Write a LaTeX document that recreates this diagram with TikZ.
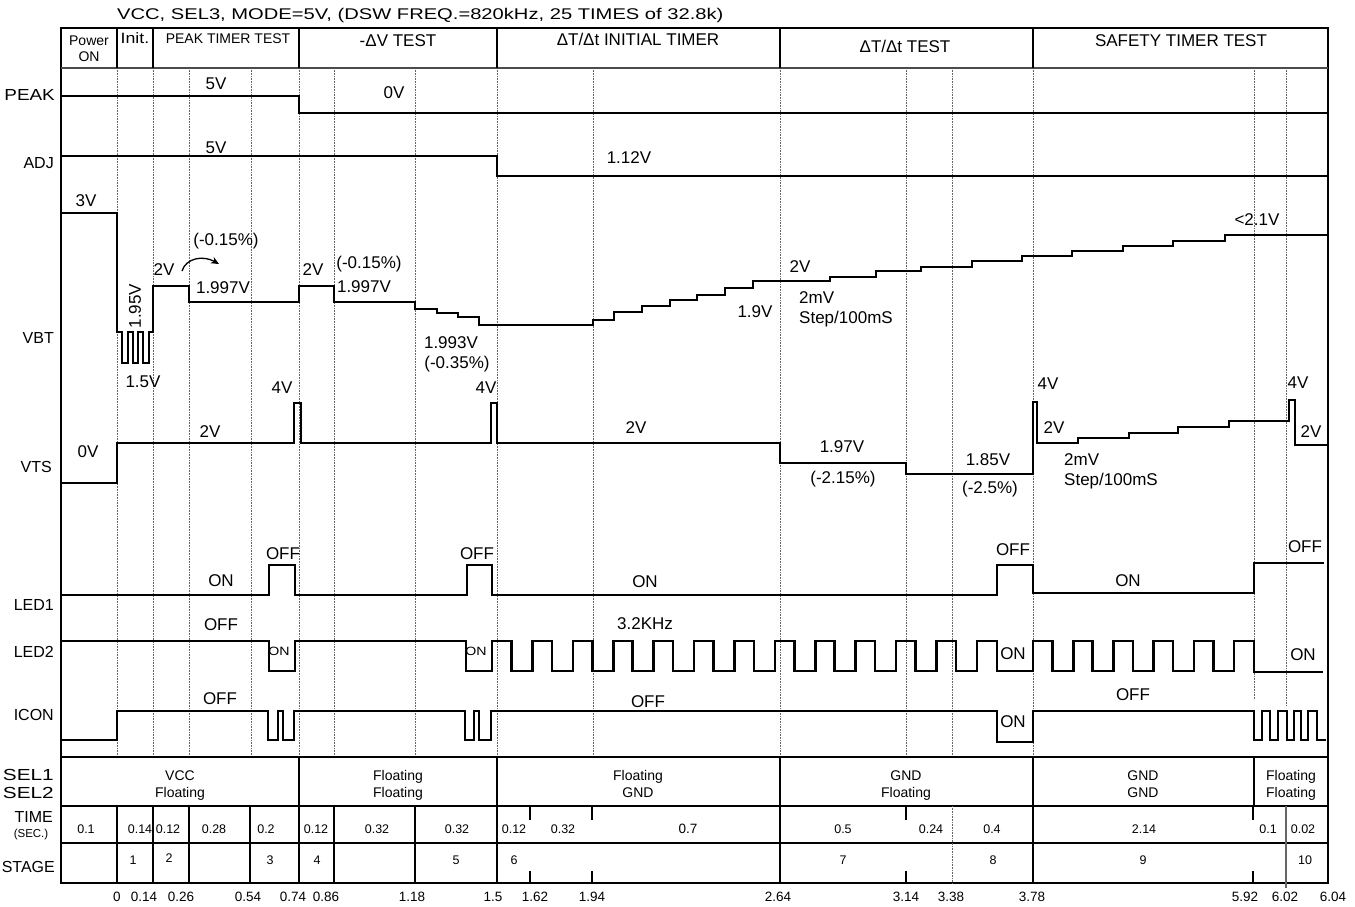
\documentclass[tikz,border=0pt]{standalone}
\usepackage{fontspec}
\setmainfont{Liberation Sans}
\newfontfamily\wfa[FakeStretch=1.18]{Liberation Sans}
\newfontfamily\wfb[FakeStretch=1.3]{Liberation Sans}
\usetikzlibrary{arrows.meta}
\newcommand\myfs[1]{\fontsize{#1}{#1}\selectfont}
\begin{document}
\begin{tikzpicture}[x=1pt,y=-1pt,
  sig/.style={line width=2.6pt},
  gridl/.style={line width=0.8pt, black!60, dash pattern=on 0.8pt off 0.8pt},
  frame/.style={line width=2.8pt},
  tl/.style={line width=1.5pt},
  lbl/.style={font=\myfs{17}, inner sep=0pt, anchor=base},
  lbll/.style={font=\myfs{17}, inner sep=0pt, anchor=base west},
  rowlbl/.style={font=\myfs{16}, inner sep=0pt, anchor=base east},
  small/.style={font=\wfa\myfs{12}, inner sep=0pt, anchor=base},
  tnum/.style={font=\myfs{12.5}, inner sep=0pt, anchor=base},
  seltxt/.style={font=\myfs{14}, inner sep=0pt, anchor=base},
  axl/.style={font=\myfs{13.5}, inner sep=0pt, anchor=base}]
\useasboundingbox (0,0) rectangle (1355,907);
\fill[white] (0,0) rectangle (1355,907);

% dotted grid
\foreach \gx in {117,153,189,251,299,334,415,497,593,780,906,952,1033}
  \draw[gridl] (\gx,68) -- (\gx,757);
\draw[gridl] (1254,68) -- (1254,700);
\draw[gridl] (1286,68) -- (1286,705);

% frame and header
\draw[frame] (61,28) rectangle (1328,883);
\draw[tl, black!70] (61,68) -- (1328,68);
\foreach \gx in {117,153,299,497,780,1033}
  \draw[tl] (\gx,28) -- (\gx,68);

% table
\draw[frame] (61,757) -- (1328,757);
\draw[tl] (61,806) -- (1328,806);
\draw[tl] (61,843) -- (1328,843);
\foreach \gx in {299,497,780,1033,1254}
  \draw[tl] (\gx,757) -- (\gx,806);
\foreach \gx in {117,153,189,250,299,334,415,497,780,1033}
  \draw[tl] (\gx,806) -- (\gx,883);
\foreach \gx in {530,592,906,1253}
  {\draw[tl] (\gx,806) -- (\gx,820); \draw[tl] (\gx,871) -- (\gx,883);}
\draw[gridl] (952,806) -- (952,883);
\draw[tl, black!60] (1286,806) -- (1286,888);

% signals
\draw[sig] (61,96) -- (299,96) -- (299,113) -- (1328,113);
\draw[sig] (61,156) -- (497,156) -- (497,176) -- (1328,176);
\draw[sig] (61,213) -- (117,213) -- (117,332) -- (122,332) -- (122,363) -- (128,363) -- (128,332)
  -- (133,332) -- (133,363) -- (138,363) -- (138,332) -- (143,332) -- (143,363) -- (149,363)
  -- (149,332) -- (153,332) -- (153,286) -- (189,286) -- (189,302) -- (299,302) -- (299,286)
  -- (334,286) -- (334,302) -- (415,302) -- (415,309) -- (437,309) -- (437,313) -- (458,313)
  -- (458,317) -- (479,317) -- (479,325) -- (593,325) -- (593,320) -- (614,320) -- (614,312)
  -- (642,312) -- (642,306) -- (670,306) -- (670,300) -- (697,300) -- (697,295) -- (725,295)
  -- (725,288) -- (753,288) -- (753,281) -- (830,281) -- (830,277) -- (876,277) -- (876,271)
  -- (921,271) -- (921,267) -- (972,267) -- (972,261) -- (1022,261) -- (1022,256) -- (1072,256)
  -- (1072,251) -- (1123,251) -- (1123,246) -- (1173,246) -- (1173,241) -- (1225,241)
  -- (1225,235) -- (1328,235);
\draw[sig] (61,483) -- (117,483) -- (117,443) -- (294,443) -- (294,403) -- (301,403) -- (301,443)
  -- (491,443) -- (491,403) -- (497,403) -- (497,443) -- (780,443) -- (780,463) -- (906,463)
  -- (906,474) -- (1033,474) -- (1033,402) -- (1037,402) -- (1037,443) -- (1078,443)
  -- (1078,438) -- (1129,438) -- (1129,433) -- (1178,433) -- (1178,427) -- (1229,427)
  -- (1229,421) -- (1289,421) -- (1289,400) -- (1295,400) -- (1295,445) -- (1328,445);
\draw[sig] (61,595) -- (269,595) -- (269,565) -- (295,565) -- (295,595) -- (467,595) -- (467,565)
  -- (492,565) -- (492,595) -- (997,595) -- (997,565) -- (1033,565) -- (1033,593) -- (1254,593)
  -- (1254,563) -- (1324,563);
\draw[sig] (61,641) -- (269,641) -- (269,671) -- (295,671) -- (295,641) -- (466,641) -- (466,671)
  -- (492,671) -- (492,641)
  \foreach \k in {0,...,11} { -- ({492+40.4*\k+19.5},641) -- ({492+40.4*\k+19.5},671)
     -- ({492+40.4*(\k+1)},671) -- ({492+40.4*(\k+1)},641) }
  -- (997,641) -- (997,671) -- (1033,671) -- (1033,641)
  \foreach \k in {0,...,4} { -- ({1033+40.2*\k+19.5},641) -- ({1033+40.2*\k+19.5},671)
     -- ({1033+40.2*(\k+1)},671) -- ({1033+40.2*(\k+1)},641) }
  -- (1254,641) -- (1254,672) -- (1323,672);
\draw[sig] (61,740) -- (117,740) -- (117,711) -- (268,711) -- (268,740) -- (278,740) -- (278,711)
  -- (283,711) -- (283,740) -- (294,740) -- (294,711) -- (465,711) -- (465,740) -- (474,740)
  -- (474,711) -- (479,711) -- (479,740) -- (491,740) -- (491,711) -- (997,711) -- (997,742)
  -- (1033,742) -- (1033,711) -- (1254,711) -- (1254,740) -- (1262,740) -- (1262,711)
  -- (1270,711) -- (1270,740) -- (1278,740) -- (1278,711) -- (1287,711) -- (1287,740)
  -- (1294,740) -- (1294,711) -- (1301,711) -- (1301,740) -- (1308,740) -- (1308,711)
  -- (1317,711) -- (1317,740) -- (1326,740);

% curved arrow
\draw[line width=1.3pt, -{Stealth[length=8pt,width=7pt]}] (182,271) .. controls (186,258) and (203,255) .. (219,264);

% title and header texts
\node[inner sep=0pt, anchor=base west, font=\wfb\myfs{15.5}] (title) at (117,20) {VCC, SEL3, MODE=5V, (DSW FREQ.=820kHz, 25 TIMES of 32.8k)};
\node[lbl, font=\myfs{14}] (hpw) at (89,46) {Power};
\node[lbl, font=\myfs{14}] (hon) at (89,62) {ON};
\node[lbl, font=\wfa\myfs{15}] (hin) at (135,44) {Init.};
\node[lbl, font=\myfs{14}] (hpk) at (228,44) {PEAK TIMER TEST};
\node[lbl] (hdv) at (398,47) {-ΔV TEST};
\node[lbl] (hit) at (638,46) {ΔT/Δt INITIAL TIMER};
\node[lbl] (htt) at (905,53) {ΔT/Δt TEST};
\node[lbl] (hst) at (1181,47) {SAFETY TIMER TEST};

% row labels
\node[rowlbl, font=\wfa\myfs{16}] (rpeak) at (55,100) {PEAK};
\node[rowlbl] (radj) at (54,168) {ADJ};
\node[rowlbl] (rvbt) at (54,343) {VBT};
\node[rowlbl] (rvts) at (52,472) {VTS};
\node[rowlbl] (rled1) at (54,610) {LED1};
\node[rowlbl] (rled2) at (54,657) {LED2};
\node[rowlbl] (ricon) at (54,720) {ICON};
\node[rowlbl, font=\wfb\myfs{16}] (rsel1) at (54,780) {SEL1};
\node[rowlbl, font=\wfb\myfs{16}] (rsel2) at (54,798) {SEL2};
\node[rowlbl] (rtime) at (53,822) {TIME};
\node[inner sep=0pt, anchor=base, font=\myfs{11.5}] (rsec) at (31,837) {(SEC.)};
\node[rowlbl] (rstage) at (55,872) {STAGE};

% PEAK / ADJ labels
\node[lbl] (p5) at (216,89) {5V};
\node[lbl] (p0) at (394,99) {0V};
\node[lbl] (a5) at (216,153) {5V};
\node[lbl] (a112) at (629,163) {1.12V};

% VBT labels
\node[lbl] (v3) at (86,206) {3V};
\node[font=\myfs{17}, inner sep=0pt, rotate=90] (v195) at (135,306) {1.95V};
\node[lbl] (v15) at (143,387) {1.5V};
\node[lbl] (v2a) at (164,275) {2V};
\node[lbl] (vpa) at (226,245) {(-0.15\%)};
\node[lbl] (v1997a) at (223,293) {1.997V};
\node[lbl] (v2b) at (313,275) {2V};
\node[lbl] (vpb) at (369,268) {(-0.15\%)};
\node[lbl] (v1997b) at (364,292) {1.997V};
\node[lbl] (v1993) at (451,348) {1.993V};
\node[lbl] (vp35) at (457,368) {(-0.35\%)};
\node[lbl] (v19) at (755,317) {1.9V};
\node[lbl] (v2c) at (800,272) {2V};
\node[lbll] (v2mv) at (799,303) {2mV};
\node[lbll] (vstep) at (799,323) {Step/100mS};
\node[lbl] (v21) at (1257,225) {<2.1V};

% VTS labels
\node[lbl] (t0) at (88,457) {0V};
\node[lbl] (t2a) at (210,437) {2V};
\node[lbl] (t4a) at (282,393) {4V};
\node[lbl] (t4b) at (486,393) {4V};
\node[lbl] (t2b) at (636,433) {2V};
\node[lbl] (t197) at (842,452) {1.97V};
\node[lbl] (tp215) at (843,483) {(-2.15\%)};
\node[lbl] (t185) at (988,465) {1.85V};
\node[lbl] (tp25) at (990,493) {(-2.5\%)};
\node[lbl] (t4c) at (1048,389) {4V};
\node[lbl] (t2c) at (1054,433) {2V};
\node[lbll] (t2mv) at (1064,465) {2mV};
\node[lbll] (tstep) at (1064,485) {Step/100mS};
\node[lbl] (t4d) at (1298,388) {4V};
\node[lbl] (t2d) at (1311,437) {2V};

% LED1 labels
\node[lbl] (l1on1) at (221,586) {ON};
\node[lbl] (l1off1) at (283,559) {OFF};
\node[lbl] (l1off2) at (477,559) {OFF};
\node[lbl] (l1on2) at (645,587) {ON};
\node[lbl] (l1off3) at (1013,555) {OFF};
\node[lbl] (l1on3) at (1128,586) {ON};
\node[lbl] (l1off4) at (1305,552) {OFF};

% LED2 labels
\node[lbl] (l2off) at (221,630) {OFF};
\node[small] (l2on1) at (279,655) {ON};
\node[small] (l2on2) at (476,655) {ON};
\node[lbl] (l2khz) at (645,629) {3.2KHz};
\node[lbl] (l2on3) at (1013,659) {ON};
\node[lbl] (l2on4) at (1303,660) {ON};

% ICON labels
\node[lbl] (ioff1) at (220,704) {OFF};
\node[lbl] (ioff2) at (648,707) {OFF};
\node[lbl] (ion) at (1013,727) {ON};
\node[lbl] (ioff3) at (1133,700) {OFF};

% SEL row
\node[seltxt] (s1a) at (180,780) {VCC};
\node[seltxt] (s1b) at (180,797) {Floating};
\node[seltxt] (s2a) at (398,780) {Floating};
\node[seltxt] (s2b) at (398,797) {Floating};
\node[seltxt] (s3a) at (638,780) {Floating};
\node[seltxt] (s3b) at (638,797) {GND};
\node[seltxt] (s4a) at (906,780) {GND};
\node[seltxt] (s4b) at (906,797) {Floating};
\node[seltxt] (s5a) at (1143,780) {GND};
\node[seltxt] (s5b) at (1143,797) {GND};
\node[seltxt] (s6a) at (1291,780) {Floating};
\node[seltxt] (s6b) at (1291,797) {Floating};

% TIME row
\node[tnum] (tm1) at (86,833) {0.1};
\node[tnum] (tm2) at (140,833) {0.14};
\node[tnum] (tm3) at (168,833) {0.12};
\node[tnum] (tm4) at (214,833) {0.28};
\node[tnum] (tm5) at (266,833) {0.2};
\node[tnum] (tm6) at (316,833) {0.12};
\node[tnum] (tm7) at (377,833) {0.32};
\node[tnum] (tm8) at (457,833) {0.32};
\node[tnum] (tm9) at (514,833) {0.12};
\node[tnum] (tm10) at (563,833) {0.32};
\node[tnum, font=\myfs{13.5}] (tm11) at (688,833) {0.7};
\node[tnum] (tm12) at (843,833) {0.5};
\node[tnum] (tm13) at (931,833) {0.24};
\node[tnum] (tm14) at (992,833) {0.4};
\node[tnum] (tm15) at (1144,833) {2.14};
\node[tnum] (tm16) at (1268,833) {0.1};
\node[tnum] (tm17) at (1303,833) {0.02};

% STAGE row
\node[tnum] (st1) at (133,864) {1};
\node[tnum] (st2) at (169,862) {2};
\node[tnum] (st3) at (270,864) {3};
\node[tnum] (st4) at (317,864) {4};
\node[tnum] (st5) at (456,864) {5};
\node[tnum] (st6) at (514,864) {6};
\node[tnum] (st7) at (843,864) {7};
\node[tnum] (st8) at (993,864) {8};
\node[tnum] (st9) at (1143,864) {9};
\node[tnum] (st10) at (1305,864) {10};

% axis
\node[axl] (ax1) at (117,901) {0};
\node[axl] (ax2) at (144,901) {0.14};
\node[axl] (ax3) at (181,901) {0.26};
\node[axl] (ax4) at (248,901) {0.54};
\node[axl] (ax5) at (293,901) {0.74};
\node[axl] (ax6) at (326,901) {0.86};
\node[axl] (ax7) at (412,901) {1.18};
\node[axl] (ax8) at (493,901) {1.5};
\node[axl] (ax9) at (535,901) {1.62};
\node[axl] (ax10) at (592,901) {1.94};
\node[axl] (ax11) at (778,901) {2.64};
\node[axl] (ax12) at (906,901) {3.14};
\node[axl] (ax13) at (951,901) {3.38};
\node[axl] (ax14) at (1032,901) {3.78};
\node[axl] (ax15) at (1245,901) {5.92};
\node[axl] (ax16) at (1285,901) {6.02};
\node[axl] (ax17) at (1333,901) {6.04};
\end{tikzpicture}
\end{document}
